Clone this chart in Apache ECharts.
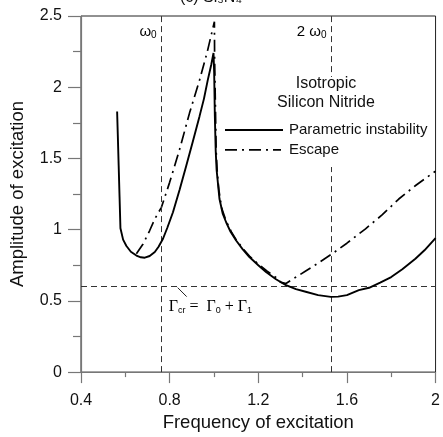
<!DOCTYPE html>
<html><head><meta charset="utf-8">
<script src="https://cdn.jsdelivr.net/npm/echarts@6/dist/echarts.min.js"></script>
<style>html,body{margin:0;padding:0;background:#fff}#c{width:443px;height:437px}</style>
</head><body><div id="c"></div>
<script>
// ---- data ----
const freqPI = [0.563,0.566,0.570,0.574,0.578,0.590,0.605,0.625,0.650,0.670,0.688,0.710,0.733,0.750,0.770,0.790,0.815,0.845,0.875,0.905,0.935,0.955,0.972,0.988,0.998,1.001,1.004,1.008,1.012,1.017,1.025,1.040,1.055,1.075,1.100,1.130,1.160,1.200,1.235,1.280,1.325,1.370,1.414,1.470,1.527,1.560,1.600,1.654,1.700,1.750,1.800,1.850,1.909,1.950,2.000];
const ampPI  = [1.83,1.67,1.45,1.23,1.01,0.93,0.885,0.845,0.818,0.806,0.803,0.815,0.843,0.880,0.936,1.015,1.122,1.28,1.448,1.62,1.797,1.92,2.05,2.16,2.24,2.10,1.80,1.55,1.42,1.34,1.215,1.11,1.052,0.985,0.924,0.862,0.808,0.75,0.703,0.652,0.610,0.582,0.564,0.540,0.528,0.530,0.540,0.575,0.592,0.628,0.667,0.722,0.796,0.855,0.941];
const freqEsc = [0.650,0.680,0.710,0.733,0.763,0.800,0.845,0.890,0.935,0.970,1.002,1.003,1.010,1.015,1.022,1.035,1.055,1.080,1.100,1.130,1.160,1.200,1.240,1.280,1.300,1.325,1.350,1.384,1.414,1.450,1.534,1.600,1.684,1.760,1.834,1.910,1.991,2.000];
const ampEsc  = [0.831,0.90,0.994,1.075,1.157,1.332,1.564,1.82,2.05,2.25,2.46,2.2,1.55,1.40,1.28,1.15,1.06,0.98,0.93,0.868,0.815,0.758,0.708,0.664,0.632,0.622,0.648,0.680,0.710,0.745,0.831,0.905,1.006,1.105,1.215,1.31,1.401,1.41];
const xTicks = [0.4, 0.8, 1.2, 1.6, 2];
const yTicks = [0, 0.5, 1, 1.5, 2, 2.5];
const omega0 = 0.764, twoOmega0 = 1.531, gammaCr = 0.6;
const seriesNames = ['Parametric instability', 'Escape'];
const legendTitle = ['Isotropic', 'Silicon Nitride'];

const SANS = 'Liberation Sans, Arial, sans-serif';
const SERIF = 'Liberation Serif, Times New Roman, serif';
const chart = echarts.init(document.getElementById('c'), null, {renderer: 'canvas'});
const zip = (a, b) => a.map((v, i) => [v, b[i]]);
const refStyle = {color: '#333', width: 1, type: [6, 4]};

const option = {
  animation: false,
  backgroundColor: '#fff',
  grid: {left: 81, right: 6, top: 16, bottom: 63, show: true, borderColor: '#222', borderWidth: 1},
  xAxis: {
    type: 'value', min: xTicks[0], max: xTicks[xTicks.length - 1], interval: 0.4,
    name: 'Frequency of excitation', nameLocation: 'middle', nameGap: 38,
    nameTextStyle: {fontFamily: SANS, fontSize: 18.5, color: '#111'},
    axisLine: {show: true, lineStyle: {color: '#777', width: 1.2}},
    axisTick: {show: true, length: 11, lineStyle: {color: '#777', width: 1.2}},
    minorTick: {show: true, splitNumber: 2, length: 5, lineStyle: {color: '#777', width: 1.2}},
    axisLabel: {margin: 20, fontFamily: SANS, fontSize: 16, color: '#111', formatter: v => String(+v.toFixed(1))},
    splitLine: {show: false}
  },
  yAxis: {
    type: 'value', min: yTicks[0], max: yTicks[yTicks.length - 1], interval: 0.5,
    name: 'Amplitude of excitation', nameLocation: 'middle', nameGap: 54,
    nameTextStyle: {fontFamily: SANS, fontSize: 18.5, color: '#111'},
    axisLine: {show: true, lineStyle: {color: '#777', width: 1.2}},
    axisTick: {show: true, length: 13, lineStyle: {color: '#777', width: 1.2}},
    minorTick: {show: true, splitNumber: 2, length: 8, lineStyle: {color: '#777', width: 1.2}},
    axisLabel: {margin: 19, fontFamily: SANS, fontSize: 16, color: '#111', formatter: v => String(+v.toFixed(1))},
    splitLine: {show: false}
  },
  series: [
    {
      name: seriesNames[0], type: 'line', data: zip(freqPI, ampPI), showSymbol: false,
      lineStyle: {color: '#000', width: 1.9}, z: 5,
      markLine: {
        silent: true, symbol: 'none', label: {show: false}, lineStyle: refStyle,
        data: [{xAxis: omega0}, {xAxis: twoOmega0}, {yAxis: gammaCr}]
      }
    },
    {
      name: seriesNames[1], type: 'line', data: zip(freqEsc, ampEsc), showSymbol: false,
      lineStyle: {color: '#000', width: 1.7, type: [12, 5, 2, 5]}, z: 4
    }
  ]
};
chart.setOption(option);

// annotations anchored to data coordinates
const P = (x, y) => chart.convertToPixel({gridIndex: 0}, [x, y]);
const pOm = P(omega0, 2.5), pTw = P(twoOmega0, 2.5), pG = P(omega0, gammaCr);
const yIso = P(0, 2.03)[1];
const sub = {fontFamily: SANS, fontSize: 10, color: '#111', verticalAlign: 'bottom', padding: [6, 0, 0, 0]};
const graphics = [
  {type: 'text', x: 180, y: -10, style: {text: '(c) Si₃N₄', font: '16px ' + SANS, fill: '#111'}, z: 20},
  {type: 'rect', shape: {x: 222, y: yIso - 6, width: 210, height: 90}, style: {fill: '#fff'}, z: 50},
  {type: 'text', x: pOm[0] - 5, y: pOm[1] + 16, z: 60, style: {text: '{a|ω}{s|0}', align: 'right', verticalAlign: 'middle', rich: {a: {fontFamily: SANS, fontSize: 15, color: '#111'}, s: sub}}},
  {type: 'text', x: pTw[0] - 5, y: pTw[1] + 16, z: 60, style: {text: '{a|2 ω}{s|0}', align: 'right', verticalAlign: 'middle', rich: {a: {fontFamily: SANS, fontSize: 15, color: '#111'}, s: sub}}},
  {type: 'text', x: 326, y: yIso + 10, z: 60, style: {text: legendTitle[0] + '\n' + legendTitle[1], align: 'center', verticalAlign: 'middle', font: '16px ' + SANS, lineHeight: 19, fill: '#111'}},
  {type: 'line', z: 60, shape: {x1: 225, y1: yIso + 47, x2: 283, y2: yIso + 47}, style: {stroke: '#000', lineWidth: 1.9}},
  {type: 'text', z: 60, x: 289, y: yIso + 47, style: {text: seriesNames[0], verticalAlign: 'middle', font: '15px ' + SANS, fill: '#111'}},
  {type: 'line', z: 60, shape: {x1: 225, y1: yIso + 67, x2: 281, y2: yIso + 67}, style: {stroke: '#000', lineWidth: 1.7, lineDash: [12, 5, 2, 5]}},
  {type: 'text', z: 60, x: 289, y: yIso + 67, style: {text: seriesNames[1], verticalAlign: 'middle', font: '15px ' + SANS, fill: '#111'}},
  {type: 'line', z: 60, shape: {x1: pG[0] + 16, y1: pG[1] + 1, x2: pG[0] + 25, y2: pG[1] + 10}, style: {stroke: '#222', lineWidth: 1}},
  {type: 'text', z: 60, x: pG[0] + 7, y: pG[1] + 20, style: {text: '{g|Γ}{s|cr}{g| =  Γ}{s|0}{g| + Γ}{s|1}', verticalAlign: 'middle', rich: {g: {fontFamily: SERIF, fontSize: 16, color: '#111'}, s: {fontFamily: SANS, fontSize: 9, color: '#111', verticalAlign: 'bottom', padding: [6, 0, 0, 0]}}}}
];
chart.setOption({graphic: graphics});
</script>
</body></html>
